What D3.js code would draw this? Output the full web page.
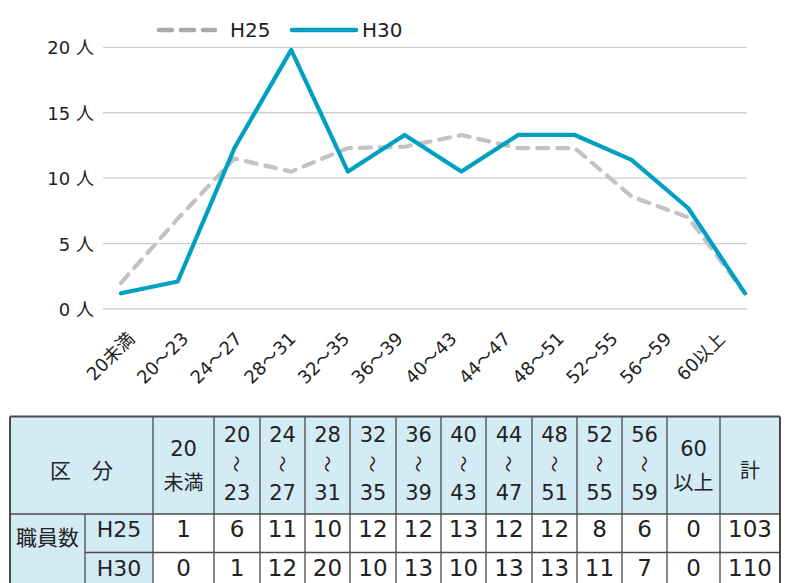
<!DOCTYPE html>
<html><head><meta charset="utf-8">
<script src="https://cdn.jsdelivr.net/npm/d3@7"></script>
<style>
html,body{margin:0;padding:0;background:#fff;}
svg{display:block;}
text{font-family:"DejaVu Sans","Noto Sans CJK JP",sans-serif;fill:#222;}
</style></head>
<body>
<svg id="c" width="789" height="583"></svg>
<script>
// ---- data ----
const categories = ["20未満","20〜23","24〜27","28〜31","32〜35","36〜39","40〜43","44〜47","48〜51","52〜55","56〜59","60以上"];
const seriesNames = ["H25","H30"];
// values as plotted on the chart
const h25Plot = [2.0, 6.9, 11.5, 10.5, 12.3, 12.4, 13.3, 12.3, 12.3, 8.6, 7.0, 1.2];
const h30Plot = [1.2, 2.1, 12.3, 19.8, 10.5, 13.3, 10.5, 13.3, 13.3, 11.4, 7.7, 1.2];
const yTicks = [0, 5, 10, 15, 20];
const yUnit = "人";
// table
const tableHeaderTop = ["20","20","24","28","32","36","40","44","48","52","56","60"];
const tableHeaderBottom = ["未満","23","27","31","35","39","43","47","51","55","59","以上"];
const h25Table = [1, 6, 11, 10, 12, 12, 13, 12, 12, 8, 6, 0];
const h30Table = [0, 1, 12, 20, 10, 13, 10, 13, 13, 11, 7, 0];
const totals = [103, 110];
const tableCorner = "区　分";
const tableRowGroup = "職員数";
const totalLabel = "計";

// ---- styles ----
const colors = {H25: "#c3c3c3", H30: "#00a0c1"};
const legendColors = {H25: "#a9a9a9", H30: "#00a0c1"};
const headerBg = "#d3ebf4";
const borderCol = "#4a4a4a";

const svg = d3.select("#c");

// ---- chart ----
const y = d3.scaleLinear().domain([0, 20]).range([309, 47.3]);
const xBand = d3.scaleBand().domain(categories).range([103, 747]);
const xPt = d3.scalePoint().domain(categories).range([121, 745]);

// gridlines
svg.append("g").selectAll("line").data(yTicks).join("line")
  .attr("x1", 103).attr("x2", 747)
  .attr("y1", d => y(d)).attr("y2", d => y(d))
  .attr("stroke", "#d0d0d0").attr("stroke-width", 1.3);

// y labels
svg.append("g").selectAll("text").data(yTicks).join("text")
  .attr("x", 94).attr("y", d => y(d) + 7)
  .attr("text-anchor", "end").attr("font-size", 18)
  .text(d => d + " " + yUnit);

// x labels
svg.append("g").selectAll("text").data(categories).join("text")
  .attr("text-anchor", "end").attr("font-size", 18)
  .attr("transform", d => `translate(${xBand(d) + xBand.bandwidth()/2 + 6},${340}) rotate(-45)`)
  .text(d => d);

// lines
const line = d3.line().x((d, i) => xPt(categories[i])).y(d => y(d));
svg.append("path").datum(h25Plot)
  .attr("d", line).attr("fill", "none")
  .attr("stroke", colors.H25).attr("stroke-width", 4.2)
  .attr("stroke-dasharray", "11,9").attr("stroke-linecap", "round").attr("stroke-linejoin", "round");
svg.append("path").datum(h30Plot)
  .attr("d", line).attr("fill", "none")
  .attr("stroke", colors.H30).attr("stroke-width", 4.2)
  .attr("stroke-linecap", "round").attr("stroke-linejoin", "round");

// legend
const lg = svg.append("g");
const legendItems = [
  {name: "H25", x1: 159, x2: 215, tx: 230, dash: "13,9"},
  {name: "H30", x1: 292, x2: 356, tx: 362, dash: null}
];
legendItems.forEach(it => {
  lg.append("line").attr("x1", it.x1).attr("x2", it.x2).attr("y1", 30).attr("y2", 30)
    .attr("stroke", legendColors[it.name]).attr("stroke-width", 4.5).attr("stroke-linecap", "round")
    .attr("stroke-dasharray", it.dash);
  lg.append("text").attr("x", it.tx).attr("y", 37).attr("font-size", 20).text(it.name);
});

// ---- table ----
const colEdges = [10, 85, 153, 214, 260, 305, 350, 396, 441, 486, 532, 577, 622, 667, 720, 780];
const rowEdges = [416.5, 514, 552.5, 591];
const tg = svg.append("g");

// backgrounds
tg.append("rect").attr("x", colEdges[0]).attr("y", rowEdges[0])
  .attr("width", colEdges[15] - colEdges[0]).attr("height", rowEdges[1] - rowEdges[0]).attr("fill", headerBg);
tg.append("rect").attr("x", colEdges[0]).attr("y", rowEdges[1])
  .attr("width", colEdges[2] - colEdges[0]).attr("height", rowEdges[3] - rowEdges[1]).attr("fill", headerBg);

// borders
const vlines = [];
colEdges.forEach((cx, i) => {
  if (i === 1) vlines.push({x: cx, y1: rowEdges[1], y2: rowEdges[3]});
  else vlines.push({x: cx, y1: rowEdges[0], y2: rowEdges[3]});
});
tg.selectAll("line.v").data(vlines).join("line").attr("class", "v")
  .attr("x1", d => d.x).attr("x2", d => d.x).attr("y1", d => d.y1).attr("y2", d => d.y2)
  .attr("stroke", borderCol).attr("stroke-width", (d, i) => (i === 0 || i === 15) ? 2 : 1.3);
const hlines = [
  {y: rowEdges[0], x1: colEdges[0], x2: colEdges[15], w: 2},
  {y: rowEdges[1], x1: colEdges[0], x2: colEdges[15], w: 1.3},
  {y: rowEdges[2], x1: colEdges[1], x2: colEdges[15], w: 1.3}
];
tg.selectAll("line.h").data(hlines).join("line").attr("class", "h")
  .attr("x1", d => d.x1).attr("x2", d => d.x2).attr("y1", d => d.y).attr("y2", d => d.y)
  .attr("stroke", borderCol).attr("stroke-width", d => d.w);

const cx = i => (colEdges[i] + colEdges[i + 1]) / 2;

tg.append("text").attr("x", (colEdges[0] + colEdges[2]) / 2).attr("y", 478)
  .attr("text-anchor", "middle").attr("font-size", 21).text(tableCorner);
tg.append("text").attr("x", cx(0)).attr("y", 545)
  .attr("text-anchor", "middle").attr("font-size", 21).text(tableRowGroup);
seriesNames.forEach((s, r) => {
  tg.append("text").attr("x", cx(1)).attr("y", r === 0 ? 537 : 575.5)
    .attr("text-anchor", "middle").attr("font-size", 22).text(s);
});

categories.forEach((c, i) => {
  const x = cx(i + 2);
  if (i === 0 || i === categories.length - 1) {
    tg.append("text").attr("x", x).attr("y", 456).attr("text-anchor", "middle").attr("font-size", 21).text(tableHeaderTop[i]);
    tg.append("text").attr("x", x).attr("y", 490).attr("text-anchor", "middle").attr("font-size", 20).text(tableHeaderBottom[i]);
  } else {
    tg.append("text").attr("x", x).attr("y", 442).attr("text-anchor", "middle").attr("font-size", 21).text(tableHeaderTop[i]);
    tg.append("text").attr("text-anchor", "middle").attr("font-size", 17)
      .attr("transform", `translate(${x - 1},${464}) rotate(90)`).attr("dy", "0.35em").attr("fill", "#333").text("〜");
    tg.append("text").attr("x", x).attr("y", 500).attr("text-anchor", "middle").attr("font-size", 21).text(tableHeaderBottom[i]);
  }
  tg.append("text").attr("x", x).attr("y", 537).attr("text-anchor", "middle").attr("font-size", 23).text(h25Table[i]);
  tg.append("text").attr("x", x).attr("y", 575.5).attr("text-anchor", "middle").attr("font-size", 23).text(h30Table[i]);
});
tg.append("text").attr("x", cx(14)).attr("y", 478).attr("text-anchor", "middle").attr("font-size", 20).text(totalLabel);
totals.forEach((t, r) => {
  tg.append("text").attr("x", cx(14)).attr("y", r === 0 ? 537 : 575.5).attr("text-anchor", "middle").attr("font-size", 23).text(t);
});
</script>
</body></html>
